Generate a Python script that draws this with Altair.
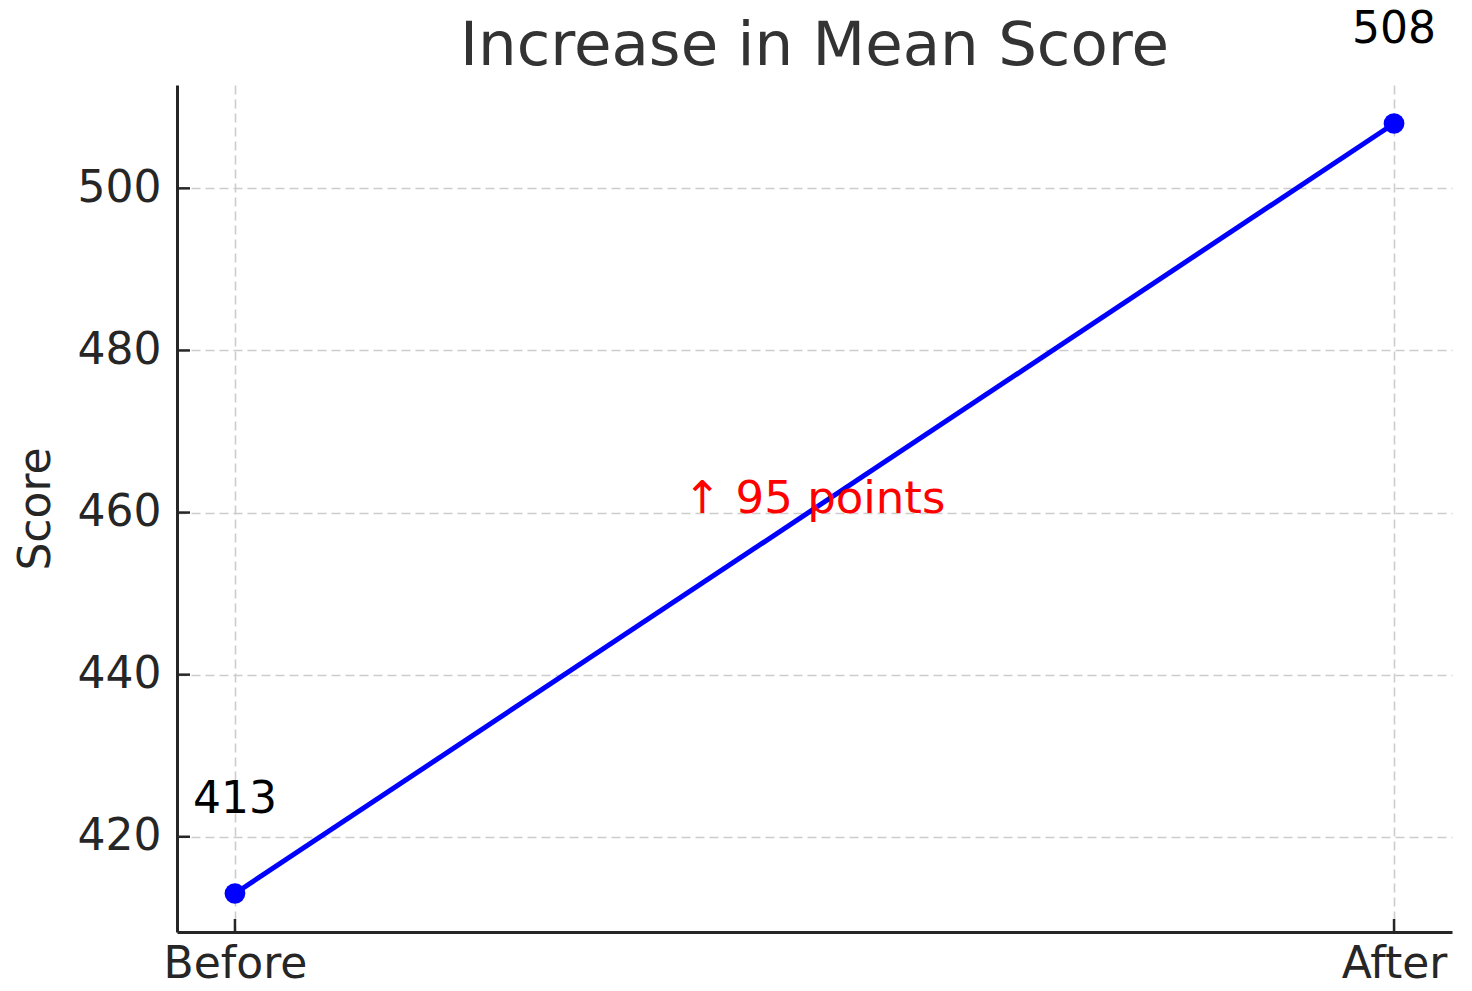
import altair as alt
import pandas as pd

phases = ["Before", "After"]
phase_idx = [0, 1]
scores = [413, 508]
y_ticks = [420, 440, 460, 480, 500]
title_text = "Increase in Mean Score"
y_title = "Score"
diff_label = f"\u2191 {scores[1] - scores[0]} points"
diff_pos = [0.5, 460]

W, H = 1275, 847
FONT = "DejaVu Sans"

df = pd.DataFrame({"idx": phase_idx, "phase": phases, "score": scores,
                   "label": [str(s) for s in scores]})
ticks_df = pd.DataFrame({"v": y_ticks})
xt_df = pd.DataFrame({"idx": phase_idx})
ann_df = pd.DataFrame({"x": [diff_pos[0]], "y": [diff_pos[1]], "t": [diff_label]})
title_df = pd.DataFrame({"t": [title_text]})

span = scores[1] - scores[0]
ydom = [scores[0] - 0.05 * span, scores[1] + 0.05 * span]
xdom = [-0.05, 1.05]

xscale = alt.Scale(domain=xdom, nice=False, zero=False)
yscale = alt.Scale(domain=ydom, nice=False, zero=False)

label_expr = "datum.value == 0 ? '" + phases[0] + "' : '" + phases[1] + "'"

x_enc = alt.X("idx:Q", scale=xscale,
              axis=alt.Axis(values=phase_idx, labelExpr=label_expr, title=None,
                            ticks=False, labelFontSize=44, labelFont=FONT,
                            labelColor="#262626", labelPadding=10,
                            domainColor="#262626", domainWidth=3,
                            gridColor="#cccccc", gridDash=[9, 5], gridWidth=1.6,
                            labelFlush=False))
y_enc = alt.Y("score:Q", scale=yscale,
              axis=alt.Axis(values=y_ticks, title=y_title, ticks=False,
                            labelFontSize=44, labelFont=FONT, labelColor="#262626",
                            labelPadding=16, titleFontSize=44, titleFont=FONT,
                            titleFontWeight="normal", titleColor="#262626",
                            titlePadding=19, domainColor="#262626", domainWidth=3,
                            gridColor="#cccccc", gridDash=[9, 5], gridWidth=1.6,
                            labelFlush=False))

line = alt.Chart(df).mark_line(color="#0000ff", strokeWidth=5).encode(x=x_enc, y=y_enc)
pts = alt.Chart(df).mark_circle(color="#0000ff", opacity=1, size=430).encode(x="idx:Q", y="score:Q")
lbl = alt.Chart(df).mark_text(font=FONT, fontSize=44, color="#000000", dy=-81,
                              baseline="alphabetic", align="center").encode(
    x="idx:Q", y="score:Q", text="label:N")
ann = alt.Chart(ann_df).mark_text(font=FONT, fontSize=45, color="#ff0000",
                                  baseline="alphabetic", align="center").encode(
    x="x:Q", y="y:Q", text="t:N")
ytk = alt.Chart(ticks_df).mark_rule(color="#262626", strokeWidth=2.5).encode(
    y="v:Q", x=alt.value(0), x2=alt.value(13))
xtk = alt.Chart(xt_df).mark_rule(color="#262626", strokeWidth=2.5).encode(
    x="idx:Q", y=alt.value(H), y2=alt.value(H - 13))
ttl = alt.Chart(title_df).mark_text(font=FONT, fontSize=61, color="#333333",
                                    baseline="alphabetic", align="center").encode(
    x=alt.value(W / 2), y=alt.value(-20), text="t:N")

chart = alt.layer(line, ytk, xtk, pts, lbl, ann, ttl).properties(
    width=W, height=H,
    autosize=alt.AutoSizeParams(type="none"),
    padding={"left": 169, "top": 77, "right": 12, "bottom": 60},
    background="white",
).configure_view(stroke=None)

chart.save("out.html", embed_options={"renderer": "svg", "actions": False})
